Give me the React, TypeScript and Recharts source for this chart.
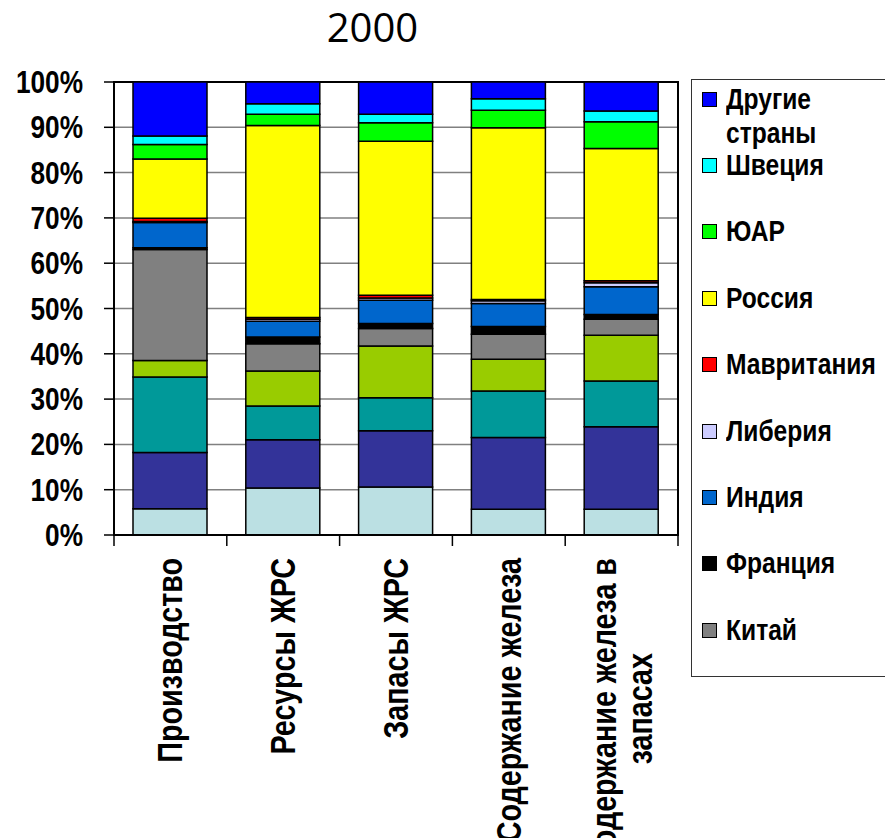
import { BarChart, Bar, XAxis, YAxis, CartesianGrid, Legend, ReferenceArea } from 'recharts';

// Category labels (last one wraps onto two lines)
const categories = ['Производство', 'Ресурсы ЖРС', 'Запасы ЖРС', 'Содержание железа', 'Содержание железа в запасах'];
const categoryLines = [['Производство'], ['Ресурсы ЖРС'], ['Запасы ЖРС'], ['Содержание железа'], ['Содержание железа в', 'запасах']];

// Shares, % (bottom to top of each bar).
// The legend in the source is cut off, so the four lowest series have no visible name.
const kanada = [5.8, 10.4, 10.6, 5.7, 5.7];
const avstraliya = [12.4, 10.6, 12.4, 15.8, 18.2];
const braziliya = [16.7, 7.5, 7.3, 10.3, 10.1];
const ukraina = [3.6, 7.7, 11.4, 7.0, 10.1];
const kitai = [24.5, 6.0, 3.9, 5.5, 3.5];
const franciya = [0.4, 1.5, 1.1, 1.7, 1.1];
const indiya = [5.6, 3.5, 5.1, 5.1, 6.1];
const liberiya = [0.2, 0.4, 0.5, 0.6, 0.9];
const mavritaniya = [0.7, 0.4, 0.6, 0.3, 0.4];
const rossiya = [13.1, 42.4, 34.0, 37.9, 29.2];
const yuar = [3.2, 2.5, 4.1, 3.85, 5.9];
const shveciya = [1.9, 2.3, 1.9, 2.55, 2.4];
const drugie = [11.9, 4.8, 7.1, 3.7, 6.4];

const yTicks = [0, 10, 20, 30, 40, 50, 60, 70, 80, 90, 100];

const series = [
    { key: 'kanada', name: 'Канада', color: '#BBE0E3', values: kanada, inLegend: false },
    { key: 'avstraliya', name: 'Австралия', color: '#333399', values: avstraliya, inLegend: false },
    { key: 'braziliya', name: 'Бразилия', color: '#009999', values: braziliya, inLegend: false },
    { key: 'ukraina', name: 'Украина', color: '#99CC00', values: ukraina, inLegend: false },
    { key: 'kitai', name: 'Китай', color: '#808080', values: kitai, inLegend: true },
    { key: 'franciya', name: 'Франция', color: '#000000', values: franciya, inLegend: true },
    { key: 'indiya', name: 'Индия', color: '#0066CC', values: indiya, inLegend: true },
    { key: 'liberiya', name: 'Либерия', color: '#CCCCFF', values: liberiya, inLegend: true },
    { key: 'mavritaniya', name: 'Мавритания', color: '#FF0000', values: mavritaniya, inLegend: true },
    { key: 'rossiya', name: 'Россия', color: '#FFFF00', values: rossiya, inLegend: true },
    { key: 'yuar', name: 'ЮАР', color: '#00FF00', values: yuar, inLegend: true },
    { key: 'shveciya', name: 'Швеция', color: '#00FFFF', values: shveciya, inLegend: true },
    { key: 'drugie', name: 'Другие страны', color: '#0000FF', values: drugie, inLegend: true },
];

const data = categories.map((name, i) => {
    const row: Record<string, string | number> = { name };
    series.forEach((s) => { row[s.key] = s.values[i]; });
    return row;
});

// no narrow Arial available, so squeeze Liberation Sans horizontally
const FONT = "'Liberation Sans', Arial, sans-serif";
const SQUEEZE = 0.82;

const W = 885;
const H = 838;
const PLOT_LEFT = 114;
const PLOT_RIGHT = 678;
const BAND = (PLOT_RIGHT - PLOT_LEFT) / categories.length;

const PercentTick = (props: any) => {
    const { x, y, payload } = props;
    return (
        <text
            transform={`translate(${x} ${y}) scale(${SQUEEZE} 1)`}
            x={0}
            y={0}
            dy={11}
            textAnchor="end"
            fontFamily={FONT}
            fontWeight="bold"
            fontSize={32}
            fill="#000"
        >
            {`${payload.value}%`}
        </text>
    );
};

const CategoryTick = (props: any) => {
    const { x, y, payload, index } = props;
    const lines = categoryLines[index] || [payload.value];
    const lineGap = 36;
    const startX = x - ((lines.length - 1) * lineGap) / 2;
    return (
        <g>
            <line x1={x - BAND / 2} y1={y} x2={x - BAND / 2} y2={y + 11} stroke="#000" strokeWidth={1.5} />
            {index === categories.length - 1 && (
                <line x1={x + BAND / 2} y1={y} x2={x + BAND / 2} y2={y + 11} stroke="#000" strokeWidth={1.5} />
            )}
            {lines.map((line: string, li: number) => {
                const lx = startX + li * lineGap;
                const ly = y + 23 + (li === 0 ? 0 : 95);
                return (
                    <text
                        key={li}
                        x={0}
                        y={0}
                        dy={12}
                        transform={`translate(${lx} ${ly}) rotate(-90) scale(${SQUEEZE} 1)`}
                        textAnchor="end"
                        fontFamily={FONT}
                        fontWeight="bold"
                        fontSize={35}
                        fill="#000"
                    >
                        {line}
                    </text>
                );
            })}
        </g>
    );
};

const LegendBox = () => {
    const items = series.filter((s) => s.inLegend).slice().reverse();
    return (
        <div
            style={{
                width: 200,
                height: 598,
                border: '1.5px solid #333',
                boxSizing: 'border-box',
                paddingTop: 2,
                paddingLeft: 10,
                fontFamily: FONT,
                fontWeight: 'bold',
                fontSize: 30,
                lineHeight: '34px',
                color: '#000',
                textAlign: 'left',
            }}
        >
            {items.map((s, i) => (
                <div
                    key={s.key}
                    style={{ display: 'flex', alignItems: 'flex-start', marginTop: i === 0 ? 0 : i === 1 ? -2 : 32.4 }}
                >
                    <span
                        style={{
                            display: 'inline-block',
                            width: 15,
                            height: 15,
                            marginTop: 10,
                            marginRight: 9,
                            background: s.color,
                            border: '1.5px solid #000',
                            boxSizing: 'border-box',
                            flex: 'none',
                        }}
                    />
                    <span
                        style={{
                            display: 'inline-block',
                            width: 120,
                            whiteSpace: s.name === 'Другие страны' ? 'normal' : 'nowrap',
                            transform: `scaleX(${SQUEEZE})`,
                            transformOrigin: 'left center',
                        }}
                    >
                        {s.name}
                    </span>
                </div>
            ))}
        </div>
    );
};

export default function App() {
    return (
        <div style={{ position: 'absolute', left: 0, top: 0, width: W, height: H, background: '#fff', overflow: 'hidden' }}>
            <div
                style={{
                    position: 'absolute',
                    left: 0,
                    top: 0,
                    width: 745,
                    textAlign: 'center',
                    fontFamily: "'Open Sans', sans-serif",
                    fontSize: 40,
                    lineHeight: '54px',
                    color: '#000',
                }}
            >
                2000
            </div>
            <BarChart
                width={W}
                height={H}
                data={data}
                margin={{ top: 82, right: W - PLOT_RIGHT, bottom: 3, left: PLOT_LEFT - 100 }}
            >
                <CartesianGrid vertical={false} stroke="#808080" strokeWidth={1.5} />
                <XAxis
                    dataKey="name"
                    height={300}
                    tickSize={0}
                    tickMargin={0}
                    tickLine={false}
                    axisLine={{ stroke: '#000', strokeWidth: 2 }}
                    tick={<CategoryTick />}
                    interval={0}
                />
                <YAxis
                    width={100}
                    domain={[0, 100]}
                    ticks={yTicks}
                    tickSize={10}
                    tickMargin={21}
                    tickLine={{ stroke: '#000', strokeWidth: 1.5 }}
                    axisLine={{ stroke: '#000', strokeWidth: 2 }}
                    tick={<PercentTick />}
                    interval={0}
                />
                <Legend
                    layout="horizontal"
                    verticalAlign="middle"
                    align="center"
                    content={<LegendBox />}
                    wrapperStyle={{ position: 'absolute', left: 691, top: 79, width: 200, height: 598 }}
                />
                {series.map((s) => (
                    <Bar
                        key={s.key}
                        dataKey={s.key}
                        name={s.name}
                        stackId="a"
                        fill={s.color}
                        stroke="#000"
                        strokeWidth={1.5}
                        barSize={74}
                        isAnimationActive={false}
                    />
                ))}
                <ReferenceArea y1={0} y2={100} fill="none" stroke="#000" strokeWidth={2} ifOverflow="visible" />
            </BarChart>
        </div>
    );
}
